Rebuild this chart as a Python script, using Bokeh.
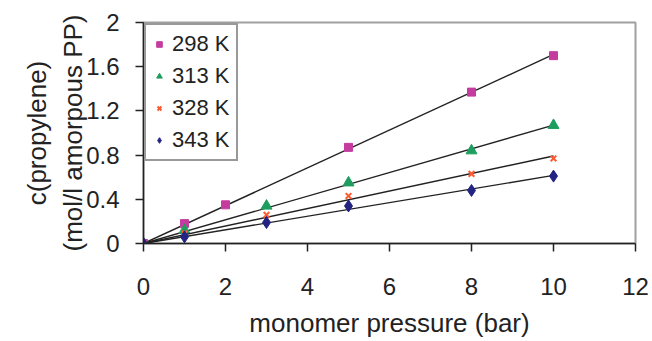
import numpy as np
from bokeh.plotting import figure
from bokeh.models import Range1d, FixedTicker, Legend, LegendItem
from bokeh.embed import file_html
from bokeh.resources import INLINE

# ---- data ----
series_names = ["298 K", "313 K", "328 K", "343 K"]
x_298 = [0, 1, 2, 5, 8, 10]
y_298 = [0, 0.18, 0.35, 0.87, 1.37, 1.70]
x_313 = [0, 1, 3, 5, 8, 10]
y_313 = [0, 0.12, 0.34, 0.55, 0.84, 1.07]
x_328 = [0, 1, 3, 5, 8, 10]
y_328 = [0, 0.09, 0.26, 0.43, 0.63, 0.77]
x_343 = [0, 1, 3, 5, 8, 10]
y_343 = [0, 0.06, 0.19, 0.34, 0.48, 0.61]

x_ticks = [0, 2, 4, 6, 8, 10, 12]
y_ticks = [0, 0.4, 0.8, 1.2, 1.6, 2]
y_tick_labels = ["0", "0.4", "0.8", "1.2", "1.6", "2"]

FONT = "Liberation Sans"

p = figure(width=652, height=341, output_backend="svg", toolbar_location=None,
           x_range=Range1d(0, 12), y_range=Range1d(0, 2),
           min_border_left=143, min_border_right=17, min_border_top=22,
           min_border_bottom=98)

p.xgrid.visible = False
p.ygrid.visible = False
p.outline_line_color = "#a0a0a0"
p.outline_line_width = 2
p.background_fill_color = "white"
p.border_fill_color = "white"

series = [
    (x_298, y_298, "square", "#c43c9e", 8),
    (x_313, y_313, "triangle", "#1e9e5e", 11),
    (x_328, y_328, "x", "#ff5a30", 8),
    (x_343, y_343, "diamond", "#232383", 12),
]

items = []
for name, (xs, ys, marker, color, size) in zip(series_names, series):
    xa = np.array(xs, dtype=float)
    ya = np.array(ys, dtype=float)
    slope = float((xa * ya).sum() / (xa * xa).sum())
    xl = [0, max(xs)]
    p.line(xl, [slope * v for v in xl], line_color="#222222", line_width=1.4)
    r = p.scatter(xs, ys, marker=marker, size=size, fill_color=color,
                  line_color=color, line_width=2 if marker == "x" else 1)
    items.append(LegendItem(label=name, renderers=[r]))

legend = Legend(items=items, location="top_left")
legend.margin = 1
legend.padding = 6
legend.spacing = 6
legend.glyph_width = 14
legend.glyph_height = 20
legend.label_standoff = 6
legend.label_text_font = FONT
legend.label_text_font_size = "22px"
legend.label_text_color = "#222222"
legend.border_line_color = "#333333"
legend.border_line_width = 2
legend.background_fill_alpha = 1
p.add_layout(legend)

for ax in (p.xaxis[0], p.yaxis[0]):
    ax.axis_line_color = "#222222"
    ax.axis_line_width = 1.5
    ax.major_tick_line_color = "#222222"
    ax.major_tick_line_width = 1.5
    ax.major_tick_in = 0
    ax.major_tick_out = 8
    ax.minor_tick_line_color = None
    ax.major_label_text_font = FONT
    ax.major_label_text_font_size = "24px"
    ax.major_label_text_color = "#222222"
    ax.axis_label_text_font = FONT
    ax.axis_label_text_font_size = "26px"
    ax.axis_label_text_font_style = "normal"
    ax.axis_label_text_color = "#222222"

p.xaxis.ticker = FixedTicker(ticks=x_ticks)
p.yaxis.ticker = FixedTicker(ticks=y_ticks)
p.yaxis.major_label_overrides = {t: l for t, l in zip(y_ticks, y_tick_labels)}
p.xaxis.major_label_standoff = 26
p.yaxis.major_label_standoff = 16
p.xaxis.axis_label = "monomer pressure (bar)"
p.yaxis.axis_label = "c(propylene)\n(mol/l amorpous PP)"
p.xaxis.axis_label_standoff = 10
p.yaxis.axis_label_standoff = -5

open("out.html", "w").write(file_html(p, INLINE))
